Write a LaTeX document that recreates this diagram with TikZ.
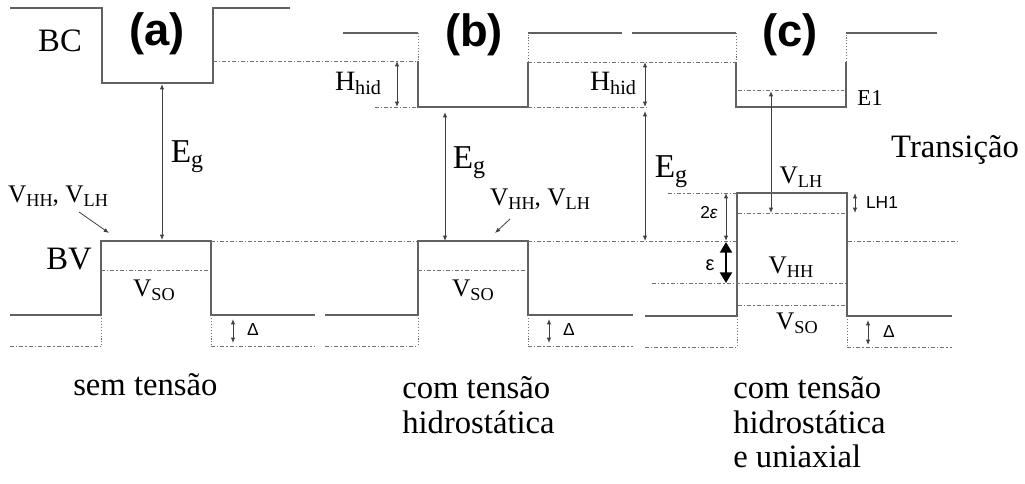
\documentclass[tikz,border=0pt]{standalone}
\usepackage{fontspec}
\usepackage{graphicx}
\setmainfont{Liberation Serif}
\newfontfamily\arialf{Liberation Sans}
\usetikzlibrary{arrows.meta}
\definecolor{bandgray}{gray}{0.38}
\definecolor{lvlgray}{gray}{0.45}
\definecolor{arrgray}{gray}{0.25}
\newcommand{\sbs}[1]{\raisebox{-0.32ex}{\scalebox{0.72}{#1}}}
\begin{document}
\begin{tikzpicture}[x=0.75pt,y=-0.75pt,
 band/.style={draw=bandgray,line width=1.2pt},
 lvl/.style={draw=lvlgray,line width=0.55pt,dash pattern=on 3pt off 1.6pt on 0.8pt off 1.6pt},
 dotv/.style={draw=lvlgray,line width=0.55pt,dash pattern=on 0.8pt off 1.4pt},
 arr/.style={draw=arrgray,line width=0.6pt,{Latex[length=4pt,width=3.2pt]}-{Latex[length=4pt,width=3.2pt]}},
 sarr/.style={draw=arrgray,line width=0.6pt,-{Latex[length=4pt,width=3.2pt]}},
 bigarr/.style={draw=black,line width=1.6pt,{Triangle[length=8pt,width=9pt]}-{Triangle[length=8pt,width=9pt]}},
 bigtxt/.style={inner sep=0pt,font=\fontsize{24.5}{27}\selectfont},
 egtxt/.style={inner sep=0pt,font=\fontsize{25}{27}\selectfont},
 htxt/.style={inner sep=0pt,font=\fontsize{21}{23}\selectfont},
 vtxt/.style={inner sep=0pt,font=\fontsize{19}{21}\selectfont},
 etxt/.style={inner sep=0pt,font=\fontsize{17}{19}\selectfont},
 paneltxt/.style={inner sep=0pt,font=\arialf\bfseries\fontsize{34}{36}\selectfont},
 smalltxt/.style={inner sep=0pt,font=\arialf\fontsize{13}{15}\selectfont},
 captxt/.style={inner sep=0pt,anchor=base west,font=\fontsize{24.5}{27}\selectfont}
]
\useasboundingbox (0,0) rectangle (1025,483);

% ---------------- panel (a) ----------------
\draw[band] (10,8) -- (102,8) -- (102,83) -- (213,83) -- (213,8) -- (290,8);
\draw[band] (10,315) -- (101,315) -- (101,241) -- (211,241) -- (211,315) -- (315,315);
\draw[lvl] (213,61) -- (418,61);
\draw[lvl] (101,270) -- (211,270);
\draw[lvl] (211,241) -- (418,241);
\draw[lvl] (10,346) -- (101,346);
\draw[lvl] (211,346) -- (315,346);
\draw[dotv] (101,315) -- (101,346);
\draw[dotv] (211,315) -- (211,346);
\draw[arr] (162,84) -- (162,240);
\draw[arr] (233,319) -- (233,343);
\node[smalltxt] (da) at (253,330) {Δ};
\node[vtxt] (vhha) at (58,196) {V\sbs{HH}, V\sbs{LH}};
\coordinate (vhhaend) at (109,233);
\draw[sarr] (79,212) -- (vhhaend);
\node[bigtxt] (bc) at (60,41) {BC};
\node[bigtxt] (bv) at (69,259) {BV};
\node[vtxt] (vsoa) at (154,290) {V\sbs{SO}};
\node[egtxt] (ega) at (187,157) {E\sbs{g}};
\node[paneltxt] (pa) at (157,34) {(a)};

% ---------------- panel (b) ----------------
\draw[band] (343,33) -- (418,33);
\draw[dotv] (418,33) -- (418,61);
\draw[band] (418,61) -- (418,107) -- (528,107) -- (528,62);
\draw[dotv] (528,62) -- (528,33);
\draw[band] (528,33) -- (622,33);
\draw[lvl] (375,107) -- (418,107);
\draw[lvl] (528,107) -- (648,107);
\draw[lvl] (528,62) -- (736,62);
\draw[arr] (397,61) -- (397,107);
\draw[arr] (645,62) -- (645,107);
\node[htxt] (hhb) at (358,83) {H\sbs{hid}};
\node[htxt] (hhc) at (613,83) {H\sbs{hid}};
\draw[arr] (445,112) -- (445,241);
\node[egtxt] (egb) at (469,163) {E\sbs{g}};
\draw[arr] (645,111) -- (645,241);
\node[egtxt] (egc) at (671,172) {E\sbs{g}};
\draw[band] (325,315) -- (418,315) -- (418,241) -- (528,241) -- (528,315) -- (633,315);
\draw[lvl] (418,270) -- (528,270);
\draw[lvl] (528,241) -- (737,241);
\draw[lvl] (325,346) -- (418,346);
\draw[lvl] (528,346) -- (633,346);
\draw[dotv] (418,315) -- (418,346);
\draw[dotv] (528,315) -- (528,346);
\draw[arr] (549,319) -- (549,343);
\node[smalltxt] (db) at (569,330) {Δ};
\node[vtxt] (vhhb) at (540,199) {V\sbs{HH}, V\sbs{LH}};
\coordinate (vhhbend) at (495,233);
\draw[sarr] (510,219) -- (vhhbend);
\node[paneltxt] (pb) at (474,35) {(b)};
\node[vtxt] (vsob) at (473,290) {V\sbs{SO}};

% ---------------- panel (c) ----------------
\draw[band] (632,33) -- (736,33);
\draw[dotv] (736,33) -- (736,62);
\draw[band] (736,62) -- (736,107) -- (846,107) -- (846,62);
\draw[dotv] (846,62) -- (846,33);
\draw[band] (846,33) -- (937,33);
\draw[lvl] (738,90) -- (844,90);
\node[etxt] (e1) at (870,98) {E1};
\draw[arr] (771,91) -- (771,213);
\node[bigtxt] (tr) at (955,150) {Transição};
\draw[band] (645,316) -- (737,316) -- (737,193) -- (847,193) -- (847,316) -- (952,316);
\draw[lvl] (668,193) -- (737,193);
\draw[lvl] (738,213) -- (846,213);
\draw[lvl] (848,241) -- (958,241);
\draw[lvl] (652,283) -- (846,283);
\draw[lvl] (738,305) -- (846,305);
\draw[lvl] (645,347) -- (737,347);
\draw[lvl] (847,347) -- (952,347);
\draw[dotv] (737,316) -- (737,347);
\draw[dotv] (847,316) -- (847,347);
\draw[arr] (726,193) -- (726,241);
\node[smalltxt] (te) at (709,213) {2\textit{ε}};
\draw[arr] (855,193) -- (855,213);
\node[smalltxt] (lh1) at (882,203) {LH1};
\draw[bigarr] (726,242) -- (726,283);
\node[inner sep=0pt,font=\arialf\fontsize{15}{17}\selectfont] (eps) at (710,265) {ε};
\draw[arr] (868,320) -- (868,345);
\node[smalltxt] (dc) at (889,332) {Δ};
\node[vtxt] (vlhc) at (801,177) {V\sbs{LH}};
\node[vtxt] (vhhc) at (791,267) {V\sbs{HH}};
\node[vtxt] (vsoc) at (797,323) {V\sbs{SO}};
\node[paneltxt] (pc) at (790,35) {(c)};

% ---------------- captions ----------------
\node[captxt] (capa) at (73,395) {sem tensão};
\node[captxt] (capb1) at (402,398) {com tensão};
\node[captxt] (capb2) at (402,433) {hidrostática};
\node[captxt] (capc1) at (733,398) {com tensão};
\node[captxt] (capc2) at (733,433) {hidrostática};
\node[captxt] (capc3) at (733,467) {e uniaxial};
\end{tikzpicture}
\end{document}
